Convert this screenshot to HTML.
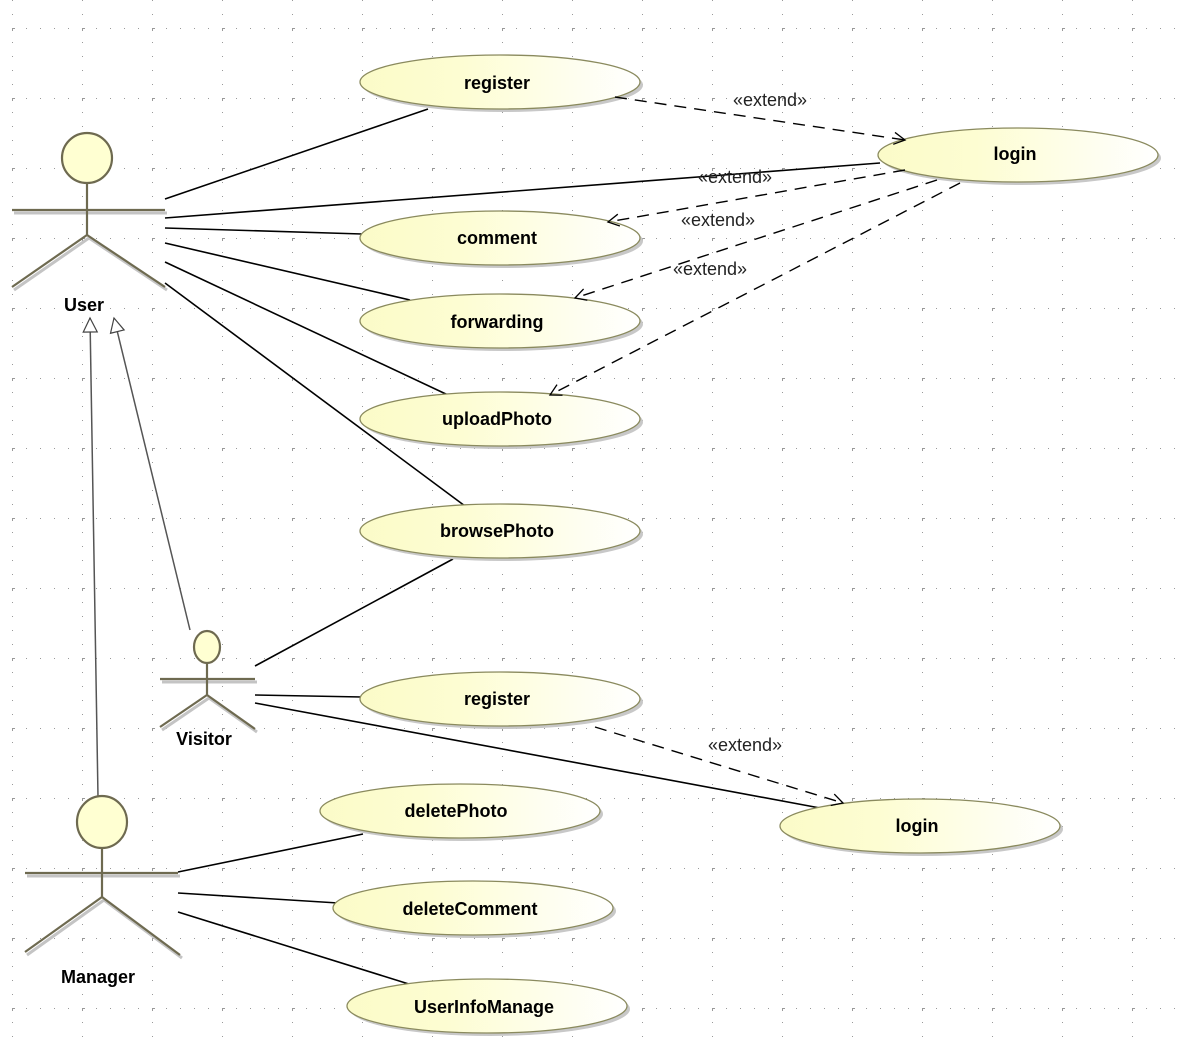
<!DOCTYPE html>
<html><head><meta charset="utf-8"><style>
html,body{margin:0;padding:0;background:#fff;}
svg{display:block;}
text{font-family:"Liberation Sans",sans-serif;}
.uc{font-weight:bold;font-size:18px;fill:#000;text-anchor:middle;}
.lb{font-size:18px;fill:#222;text-anchor:middle;}
</style></head><body>
<svg width="1180" height="1050" viewBox="0 0 1180 1050" xmlns="http://www.w3.org/2000/svg">
<defs>
<pattern id="g" x="12" y="28" width="70" height="70" patternUnits="userSpaceOnUse">
<rect x="0" y="0" width="1" height="1" fill="#999"/>
<rect x="14" y="0" width="1" height="1" fill="#999"/><rect x="28" y="0" width="1" height="1" fill="#999"/><rect x="42" y="0" width="1" height="1" fill="#999"/><rect x="56" y="0" width="1" height="1" fill="#999"/>
<rect x="0" y="14" width="1" height="1" fill="#999"/><rect x="0" y="28" width="1" height="1" fill="#999"/><rect x="0" y="42" width="1" height="1" fill="#999"/><rect x="0" y="56" width="1" height="1" fill="#999"/>
<rect x="-2" y="0" width="5" height="1" fill="#999"/><rect x="0" y="-2" width="1" height="5" fill="#999"/>
</pattern>
<linearGradient id="yg" x1="0" y1="0" x2="1" y2="0">
<stop offset="0" stop-color="#fbfbc8"/><stop offset="0.35" stop-color="#fdfdd2"/><stop offset="1" stop-color="#ffffff"/>
</linearGradient>
<marker id="oa" markerWidth="14" markerHeight="14" refX="12" refY="7" orient="auto" markerUnits="userSpaceOnUse">
<path d="M1,1 L12,7 L1,13" fill="none" stroke="#000" stroke-width="1.3"/>
</marker>
<marker id="tri" markerWidth="18" markerHeight="18" refX="15" refY="8" orient="auto" markerUnits="userSpaceOnUse">
<path d="M1,1 L15,8 L1,15 Z" fill="#fff" stroke="#444" stroke-width="1.2"/>
</marker>
</defs>
<rect width="1180" height="1050" fill="#fff"/>
<rect width="1180" height="1050" fill="url(#g)"/>

<!-- generalization -->
<g stroke="#555" stroke-width="1.5" fill="none">
<line x1="98" y1="797" x2="90" y2="318" marker-end="url(#tri)"/>
<line x1="190" y1="630" x2="114" y2="318" marker-end="url(#tri)"/>
</g>

<!-- associations -->
<g stroke="#000" stroke-width="1.6">
<line x1="165" y1="199" x2="428" y2="109"/>
<line x1="165" y1="218" x2="880" y2="163"/>
<line x1="165" y1="228" x2="362" y2="234"/>
<line x1="165" y1="243" x2="410" y2="300"/>
<line x1="165" y1="262" x2="448" y2="395"/>
<line x1="165" y1="283" x2="465" y2="506"/>
<line x1="255" y1="666" x2="453" y2="559"/>
<line x1="255" y1="695" x2="362" y2="697"/>
<line x1="255" y1="703" x2="820" y2="808"/>
<line x1="178" y1="872" x2="363" y2="834"/>
<line x1="178" y1="893" x2="338" y2="903"/>
<line x1="178" y1="912" x2="412" y2="985"/>
</g>

<!-- use cases -->
<g stroke="#8a8a5e" stroke-width="1.3">
<g id="e">
</g>
</g>
<g>
<ellipse cx="503" cy="85" rx="140" ry="27" fill="#c8c8c8"/><ellipse cx="500" cy="82" rx="140" ry="27" fill="url(#yg)" stroke="#8a8a5e" stroke-width="1.3"/>
<ellipse cx="1021" cy="158" rx="140" ry="27" fill="#c8c8c8"/><ellipse cx="1018" cy="155" rx="140" ry="27" fill="url(#yg)" stroke="#8a8a5e" stroke-width="1.3"/>
<ellipse cx="503" cy="241" rx="140" ry="27" fill="#c8c8c8"/><ellipse cx="500" cy="238" rx="140" ry="27" fill="url(#yg)" stroke="#8a8a5e" stroke-width="1.3"/>
<ellipse cx="503" cy="324" rx="140" ry="27" fill="#c8c8c8"/><ellipse cx="500" cy="321" rx="140" ry="27" fill="url(#yg)" stroke="#8a8a5e" stroke-width="1.3"/>
<ellipse cx="503" cy="422" rx="140" ry="27" fill="#c8c8c8"/><ellipse cx="500" cy="419" rx="140" ry="27" fill="url(#yg)" stroke="#8a8a5e" stroke-width="1.3"/>
<ellipse cx="503" cy="534" rx="140" ry="27" fill="#c8c8c8"/><ellipse cx="500" cy="531" rx="140" ry="27" fill="url(#yg)" stroke="#8a8a5e" stroke-width="1.3"/>
<ellipse cx="503" cy="702" rx="140" ry="27" fill="#c8c8c8"/><ellipse cx="500" cy="699" rx="140" ry="27" fill="url(#yg)" stroke="#8a8a5e" stroke-width="1.3"/>
<ellipse cx="923" cy="829" rx="140" ry="27" fill="#c8c8c8"/><ellipse cx="920" cy="826" rx="140" ry="27" fill="url(#yg)" stroke="#8a8a5e" stroke-width="1.3"/>
<ellipse cx="463" cy="814" rx="140" ry="27" fill="#c8c8c8"/><ellipse cx="460" cy="811" rx="140" ry="27" fill="url(#yg)" stroke="#8a8a5e" stroke-width="1.3"/>
<ellipse cx="476" cy="911" rx="140" ry="27" fill="#c8c8c8"/><ellipse cx="473" cy="908" rx="140" ry="27" fill="url(#yg)" stroke="#8a8a5e" stroke-width="1.3"/>
<ellipse cx="490" cy="1009" rx="140" ry="27" fill="#c8c8c8"/><ellipse cx="487" cy="1006" rx="140" ry="27" fill="url(#yg)" stroke="#8a8a5e" stroke-width="1.3"/>
</g>
<g class="uc">
<text class="uc" x="497" y="89">register</text>
<text class="uc" x="1015" y="160">login</text>
<text class="uc" x="497" y="244">comment</text>
<text class="uc" x="497" y="328">forwarding</text>
<text class="uc" x="497" y="425">uploadPhoto</text>
<text class="uc" x="497" y="537">browsePhoto</text>
<text class="uc" x="497" y="705">register</text>
<text class="uc" x="917" y="832">login</text>
<text class="uc" x="456" y="817">deletePhoto</text>
<text class="uc" x="470" y="915">deleteComment</text>
<text class="uc" x="484" y="1013">UserInfoManage</text>
</g>

<!-- extends -->
<g stroke="#000" stroke-width="1.4" stroke-dasharray="12,8" fill="none">
<line x1="615" y1="97" x2="905" y2="140" marker-end="url(#oa)"/>
<line x1="905" y1="170" x2="608" y2="222" marker-end="url(#oa)"/>
<line x1="937" y1="180" x2="575" y2="298" marker-end="url(#oa)"/>
<line x1="960" y1="183" x2="550" y2="395" marker-end="url(#oa)"/>
<line x1="595" y1="727" x2="843" y2="803" marker-end="url(#oa)"/>
</g>
<g>
<text class="lb" x="770" y="106">«extend»</text>
<text class="lb" x="735" y="183">«extend»</text>
<text class="lb" x="718" y="226">«extend»</text>
<text class="lb" x="710" y="275">«extend»</text>
<text class="lb" x="745" y="751">«extend»</text>
</g>

<!-- actors -->
<g fill="none" stroke="#c4c4c4" stroke-width="3" transform="translate(2,3)">
<line x1="12" y1="210" x2="165" y2="210"/><line x1="87" y1="235" x2="12" y2="287"/><line x1="87" y1="235" x2="165" y2="287"/>
<line x1="160" y1="679" x2="255" y2="679"/><line x1="207" y1="695" x2="160" y2="727"/><line x1="207" y1="695" x2="255" y2="729"/>
<line x1="25" y1="873" x2="178" y2="873"/><line x1="102" y1="897" x2="25" y2="952"/><line x1="102" y1="897" x2="180" y2="955"/>
</g>
<g stroke="#6e6a50" stroke-width="2.2">
<circle cx="87" cy="158" r="25" fill="#ffffd2"/>
<line x1="87" y1="183" x2="87" y2="235"/><line x1="12" y1="210" x2="165" y2="210"/>
<line x1="87" y1="235" x2="12" y2="287"/><line x1="87" y1="235" x2="165" y2="287"/>
<ellipse cx="207" cy="647" rx="13" ry="16" fill="#ffffd2"/>
<line x1="207" y1="663" x2="207" y2="695"/><line x1="160" y1="679" x2="255" y2="679"/>
<line x1="207" y1="695" x2="160" y2="727"/><line x1="207" y1="695" x2="255" y2="729"/>
<ellipse cx="102" cy="822" rx="25" ry="26" fill="#ffffd2"/>
<line x1="102" y1="848" x2="102" y2="897"/><line x1="25" y1="873" x2="178" y2="873"/>
<line x1="102" y1="897" x2="25" y2="952"/><line x1="102" y1="897" x2="180" y2="955"/>
</g>
<text class="uc" x="84" y="311">User</text>
<text class="uc" x="204" y="745">Visitor</text>
<text class="uc" x="98" y="983">Manager</text>
</svg>
</body></html>
